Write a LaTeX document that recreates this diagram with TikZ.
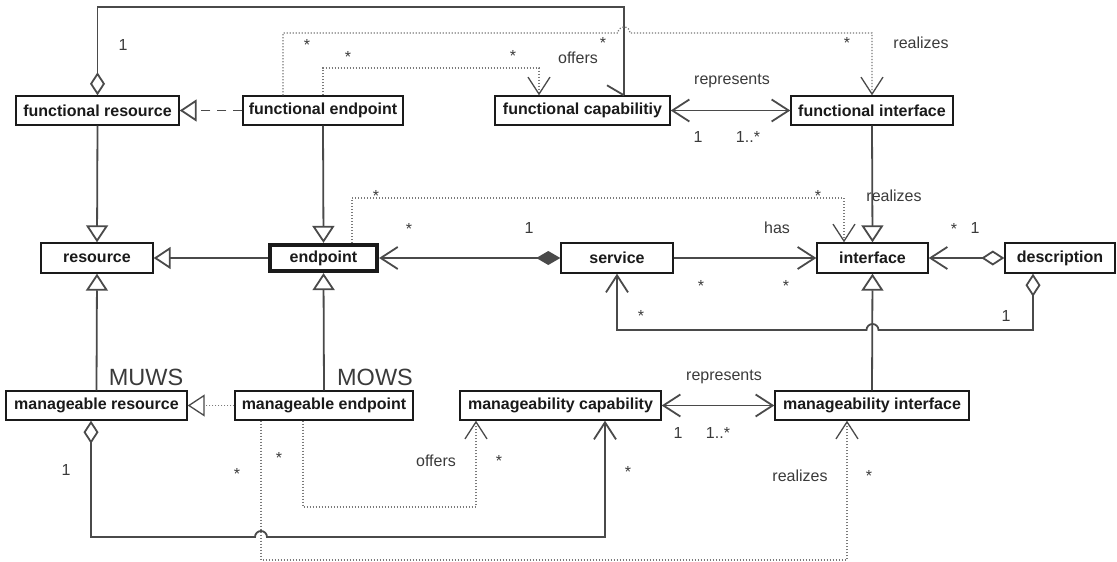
\documentclass[tikz,border=0pt]{standalone}
\usepackage{fontspec}
\setmainfont{Liberation Sans}
\usetikzlibrary{arrows.meta,calc}
\definecolor{boxc}{HTML}{1A1A1A}
\definecolor{linec}{HTML}{4A4A4A}
\definecolor{dotc}{HTML}{7A7A7A}
\definecolor{labc}{HTML}{3A3A3A}
\newcommand{\boxfont}{\fontsize{16}{18}\selectfont\bfseries}
\newcommand{\labfont}{\fontsize{16}{18}\selectfont}
\newcommand{\bigfont}{\fontsize{23.5}{26}\selectfont}
\tikzset{
  gentip/.tip={Triangle[open,length=17pt,width=22pt]},
  navtip/.tip={Straight Barb[length=17pt,width=22pt]},
  dnavtip/.tip={Straight Barb[length=17pt,width=22pt,color=linec]},
  odia/.tip={Diamond[open,length=23pt,width=15pt]},
  fdia/.tip={Diamond[length=24pt,width=14pt]},
}
\begin{document}
\begin{tikzpicture}[x=1pt,y=-1pt,
  cls/.style={draw=boxc, fill=white, line width=1.4pt, inner sep=0pt, font=\boxfont, text=boxc, minimum height=29pt},
  thickcls/.style={cls, line width=4.2pt},
  conn/.style={draw=linec, line width=1.8pt},
  dotl/.style={draw=dotc, line width=1.3pt, dash pattern=on 1.2pt off 1.8pt},
  dashl/.style={draw=linec, line width=1.8pt, dash pattern=on 9pt off 7pt},
  lab/.style={font=\labfont, text=labc, inner sep=0pt, anchor=center},
  starlab/.style={lab, yshift=-3.5pt},
  biglab/.style={font=\bigfont, text=labc, inner sep=0pt, anchor=center}]
\useasboundingbox (0,0) rectangle (1117,562);

% classes
\node[cls, minimum width=163pt] (fr) at (97.5,110.5) {functional resource};
\node[cls, minimum width=160pt] (fe) at (323,110.5) {functional endpoint};
\node[cls, minimum width=175pt] (fc) at (582.5,110.5) {functional capabilitiy};
\node[cls, minimum width=162pt] (fi) at (872,110.5) {functional interface};
\node[cls, minimum width=112pt, minimum height=30pt] (res) at (97,258) {resource};
\node[thickcls, minimum width=107pt, minimum height=26pt] (ep) at (323.5,258) {endpoint};
\node[cls, minimum width=112pt, minimum height=30pt] (svc) at (617,258) {service};
\node[cls, minimum width=111pt, minimum height=30pt] (if) at (872.5,258) {interface};
\node[cls, minimum width=110pt, minimum height=30pt] (desc) at (1060,258) {description};
\node[cls, minimum width=181pt] (mr) at (96.5,405.5) {manageable resource};
\node[cls, minimum width=178pt] (me) at (324,405.5) {manageable endpoint};
\node[cls, minimum width=201pt] (mc) at (560.5,405.5) {manageability capability};
\node[cls, minimum width=194pt] (mi) at (872,405.5) {manageability interface};

% bend points
\coordinate (p1) at (97.5,7);
\coordinate (p2) at (624,7);
\coordinate (q1) at (283,33);
\coordinate (r1) at (539,68);
\coordinate (s1) at (352,198);
\coordinate (s2) at (844,198);
\coordinate (k1) at (1033,330);
\coordinate (t1) at (91,537);
\coordinate (t2) at (605,537);
\coordinate (u1) at (261,560);
\coordinate (u2) at (847,560);
\coordinate (v1) at (303,507);
\coordinate (v2) at (476,507);

% generalizations
\draw[conn, -{gentip}] (fr.south) -- (res.north);
\draw[conn, -{gentip}] (fe.south) -- (ep.north);
\draw[conn, -{gentip}] (ep.west) -- (res.east);
\draw[conn, -{gentip}] (mr.north) -- (res.south);
\draw[conn, -{gentip}] (me.north) -- (ep.south);
\draw[conn, -{gentip}] (fi.south) -- (if.north);
\draw[conn, -{gentip}] (mi.north) -- (if.south);
\draw[dashl, -{gentip}] (fe.west) -- (fr.east);
\draw[dotl, -{gentip[color=linec]}] (me.west) -- (mr.east);

% associations
\draw[conn, {fdia}-{navtip}] (svc.west) -- (ep.east);
\draw[conn, -{navtip}] (svc.east) -- (if.west);
\draw[conn, {odia}-{navtip}] (desc.west) -- (if.east);
\draw[conn, {navtip}-{navtip}] (fc.east) -- (fi.west);
\draw[conn, {navtip}-{navtip}] (mc.east) -- (mi.west);
\draw[conn, {odia}-{navtip}] (desc.south -| k1) -- (k1)
  -- ($(k1 -| if.south)+(6,0)$) arc[start angle=0,end angle=-180,radius=6]
  -- (k1 -| svc.south) -- (svc.south);
\draw[conn, {odia}-] (fr.north) -- (p1) -- (p2) -- (p2 |- fc.north);
\draw[conn] (p2 |- fc.north) -- ++(-17,-10);
\draw[conn, {odia}-{navtip}] (mr.south -| t1) -- (t1)
  -- ($(t1 -| u1)+(-6,0)$) arc[start angle=180,end angle=360,radius=6]
  -- (t2) -- (t2 |- mc.south);

% dotted dependencies
\draw[dotl, -{dnavtip}] (fe.north -| q1) -- (q1)
  -- ($(q1 -| p2)+(-6,0)$) arc[start angle=180,end angle=360,radius=6]
  -- (q1 -| fi.north) -- (fi.north);
\draw[dotl, -{dnavtip}] (fe.north) -- (fe.north |- r1) -- (r1) -- (r1 |- fc.north);
\draw[dotl, -{dnavtip}] (ep.north -| s1) -- (s1) -- (s2) -- (s2 |- if.north);
\draw[dotl, -{dnavtip}] (me.south -| u1) -- (u1) -- (u2) -- (u2 |- mi.south);
\draw[dotl, -{dnavtip}] (me.south -| v1) -- (v1) -- (v2) -- (v2 |- mc.south);

% labels
\node[lab] (la1) at (123,45) {1};
\node[starlab] (la2) at (307,41) {*};
\node[starlab] (la3) at (348,53) {*};
\node[starlab] (la4) at (513,52) {*};
\node[lab] (la5) at (578,58) {offers};
\node[starlab] (la6) at (603,39) {*};
\node[starlab] (la7) at (847,39) {*};
\node[lab] (la8) at (921,43) {realizes};
\node[lab] (la9) at (732,81) {represents};
\node[lab] (la10) at (698,137) {1};
\node[lab] (la11) at (748,137) {1..*};
\node[starlab] (la12) at (376,192) {*};
\node[starlab] (la13) at (818,192) {*};
\node[lab] (la14) at (894,196) {realizes};
\node[starlab] (la15) at (409,225) {*};
\node[lab] (la16) at (529,228) {1};
\node[lab] (la17) at (777,228) {has};
\node[starlab] (la18) at (954,225) {*};
\node[lab] (la19) at (975,228) {1};
\node[starlab] (la20) at (701,282) {*};
\node[starlab] (la21) at (786,282) {*};
\node[starlab] (la22) at (641,312) {*};
\node[lab] (la23) at (1006,316) {1};
\node[biglab] (la24) at (146,377) {MUWS};
\node[biglab] (la25) at (375,377) {MOWS};
\node[lab] (la26) at (724,377) {represents};
\node[lab] (la27) at (678,433) {1};
\node[lab] (la28) at (718,433) {1..*};
\node[starlab] (la29) at (628,468) {*};
\node[lab] (la30) at (800,476) {realizes};
\node[starlab] (la31) at (869,472) {*};
\node[lab] (la32) at (66,470) {1};
\node[starlab] (la33) at (237,470) {*};
\node[starlab] (la34) at (279,454) {*};
\node[lab] (la35) at (436,461) {offers};
\node[starlab] (la36) at (499,457) {*};
\end{tikzpicture}
\end{document}
